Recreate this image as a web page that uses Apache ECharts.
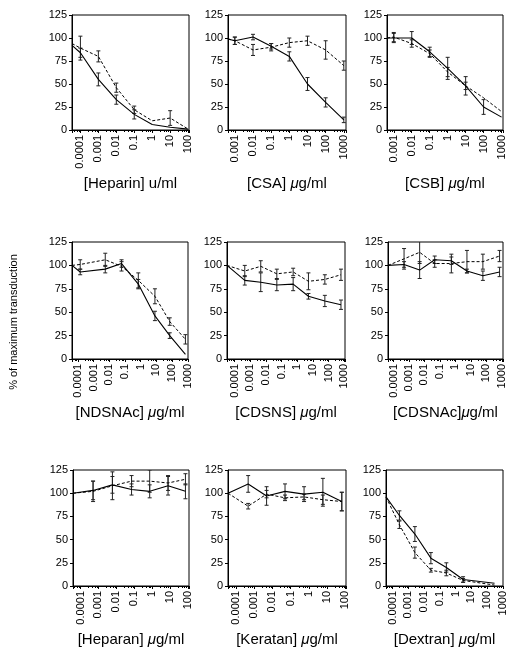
<!DOCTYPE html>
<html><head><meta charset="utf-8">
<script src="https://cdn.jsdelivr.net/npm/echarts@6/dist/echarts.min.js"></script>
<style>html,body{margin:0;padding:0;background:#fff}#c{width:516px;height:652px}</style>
</head><body><div id="c"></div>
<script>
// ---------- data ----------
const xTickLabels = ['0.0001','0.001','0.01','0.1','1','10','100','1000'];
const yTicks = [0,25,50,75,100,125];

const heparinX = [0.000034, 0.0001, 0.001, 0.01, 0.1, 1, 10, 100];
const heparinSolid = [92, 84, 55, 33, 17, 6, 3, 1];
const heparinSolidErr = [0, 5, 7, 5, 5, 0, 0, 0];
const heparinDashed = [94, 89, 80, 46, 22, 10, 13, 1];
const heparinDashedErr = [0, 13, 6, 5, 4, 0, 8, 0];

const csaX = [0.00042, 0.001, 0.01, 0.1, 1, 10, 100, 1000];
const csaSolid = [99, 97, 101, 91, 80, 50, 30, 11];
const csaSolidErr = [0, 4, 3, 3, 5, 7, 5, 3];
const csaDashed = [99, 97, 87, 90, 95, 97, 87, 70];
const csaDashedErr = [0, 4, 6, 4, 5, 5, 10, 5];

const csbX = [0.00042, 0.001, 0.01, 0.1, 1, 10, 100, 1000];
const csbSolid = [100, 100, 100, 85, 67, 48, 25, 14];
const csbSolidErr = [0, 5, 7, 5, 12, 10, 8, 0];
const csbDashed = [100, 101, 94, 83, 63, 48, 35, 20];
const csbDashedErr = [0, 5, 4, 4, 5, 4, 0, 0];

const ndsX = [0.000042, 0.00014, 0.0055, 0.06, 0.7, 8, 70, 700];
const ndsSolid = [100, 93, 96, 102, 80, 46, 25, 5];
const ndsSolidErr = [0, 3, 4, 4, 5, 5, 3, 0];
const ndsDashed = [100, 101, 106, 99, 84, 67, 40, 21];
const ndsDashedErr = [0, 5, 7, 5, 8, 8, 4, 5];

const cdsnsX = [0.000033, 0.00045, 0.0047, 0.05, 0.55, 5.2, 58, 620];
const cdsnsSolid = [100, 84, 82, 79, 80, 67, 62, 58];
const cdsnsSolidErr = [0, 5, 10, 6, 7, 3, 6, 5];
const cdsnsDashed = [100, 94, 99, 91, 93, 83, 85, 90];
const cdsnsDashedErr = [0, 6, 6, 5, 4, 9, 5, 6];

const cdsnacX = [0.000044, 0.00048, 0.0049, 0.046, 0.55, 5.6, 60, 720];
const cdsnacSolid = [100, 101, 95, 106, 105, 94, 89, 93];
const cdsnacSolidErr = [0, 3, 9, 4, 4, 2, 5, 5];
const cdsnacDashed = [100, 107, 114, 102, 102, 104, 104, 110];
const cdsnacDashedErr = [0, 11, 12, 4, 10, 12, 8, 6];

const heparanX = [0.000038, 0.0005, 0.006, 0.07, 0.72, 7.6, 71];
const heparanSolid = [100, 103, 109, 104, 102, 108, 102];
const heparanSolidErr = [0, 10, 9, 6, 7, 10, 8];
const heparanDashed = [100, 102, 108, 113, 113, 111, 115];
const heparanDashedErr = [0, 11, 15, 6, 12, 8, 6];

const keratanX = [0.000037, 0.00047, 0.0048, 0.049, 0.54, 5.8, 63];
const keratanSolid = [100, 110, 97, 102, 99, 101, 91];
const keratanSolidErr = [0, 9, 10, 8, 8, 15, 10];
const keratanDashed = [100, 86, 99, 95, 96, 93, 91];
const keratanDashedErr = [0, 3, 4, 3, 3, 5, 10];

const dextranX = [0.000038, 0.00027, 0.0026, 0.027, 0.26, 3, 300];
const dextranSolid = [96, 76, 56, 30, 20, 7, 3];
const dextranSolidErr = [0, 5, 8, 6, 5, 3, 0];
const dextranDashed = [96, 66, 36, 17, 14, 6, 1];
const dextranDashedErr = [0, 4, 6, 2, 3, 2, 0];

const titles = ['[Heparin] u/ml', '[CSA] {i|\u03bc}g/ml', '[CSB] {i|\u03bc}g/ml',
  '[NDSNAc] {i|\u03bc}g/ml', '[CDSNS] {i|\u03bc}g/ml', '[CDSNAc]{i|\u03bc}g/ml',
  '[Heparan] {i|\u03bc}g/ml', '[Keratan] {i|\u03bc}g/ml', '[Dextran] {i|\u03bc}g/ml'];
const yTitle = '% of maximum transduction';

// ---------- layout ----------
const panels = [
  {x: heparinX, s: heparinSolid, se: heparinSolidErr, d: heparinDashed, de: heparinDashedErr, max: 112, rect: [72, 15, 117, 115]},
  {x: csaX, s: csaSolid, se: csaSolidErr, d: csaDashed, de: csaDashedErr, max: 1320, rect: [228, 15, 118, 115]},
  {x: csbX, s: csbSolid, se: csbSolidErr, d: csbDashed, de: csbDashedErr, max: 1200, rect: [387, 15, 116, 115]},
  {x: ndsX, s: ndsSolid, se: ndsSolidErr, d: ndsDashed, de: ndsDashedErr, max: 1020, rect: [72, 242, 116, 117]},
  {x: cdsnsX, s: cdsnsSolid, se: cdsnsSolidErr, d: cdsnsDashed, de: cdsnsDashedErr, max: 1120, rect: [227, 242, 118, 117]},
  {x: cdsnacX, s: cdsnacSolid, se: cdsnacSolidErr, d: cdsnacDashed, de: cdsnacDashedErr, max: 1200, rect: [388, 242, 115, 117]},
  {x: heparanX, s: heparanSolid, se: heparanSolidErr, d: heparanDashed, de: heparanDashedErr, max: 112, rect: [73, 470, 116, 116]},
  {x: keratanX, s: keratanSolid, se: keratanSolidErr, d: keratanDashed, de: keratanDashedErr, max: 107, rect: [228, 470, 118, 116]},
  {x: dextranX, s: dextranSolid, se: dextranSolidErr, d: dextranDashed, de: dextranDashedErr, max: 1030, rect: [386, 470, 117, 116]}
];

const FONT = 'Liberation Sans';
const grids = [], xAxes = [], yAxes = [], series = [];

function errRender(params, api) {
  const x = api.value(0), y = api.value(1), e = api.value(2);
  const t = api.coord([x, y + e]), b = api.coord([x, y - e]);
  const w = 2, st = {stroke: '#222', lineWidth: 1};
  return {type: 'group', children: [
    {type: 'line', shape: {x1: t[0], y1: t[1], x2: b[0], y2: b[1]}, style: st},
    {type: 'line', shape: {x1: t[0] - w, y1: t[1], x2: t[0] + w, y2: t[1]}, style: st},
    {type: 'line', shape: {x1: b[0] - w, y1: b[1], x2: b[0] + w, y2: b[1]}, style: st}
  ]};
}

panels.forEach((p, i) => {
  const [l, t, w, h] = p.rect;
  grids.push({left: l, top: t, width: w, height: h, show: true, borderColor: '#000', borderWidth: 1, containLabel: false});
  xAxes.push({
    type: 'log', logBase: 10, gridIndex: i, min: p.x[0], max: p.max,
    splitLine: {show: false},
    axisLine: {show: true, lineStyle: {color: '#000', width: 1}},
    axisTick: {show: true, length: 3, lineStyle: {color: '#000'}},
    minorTick: {show: true, splitNumber: 5, length: 2, lineStyle: {color: '#000'}},
    axisLabel: {
      rotate: 90, fontSize: 11, color: '#000', margin: 5, fontFamily: FONT,
      formatter: v => {
        const e = Math.log10(v), r = Math.round(e);
        if (Math.abs(e - r) > 1e-6) return '';
        return xTickLabels[r + 4] || '';
      }
    },
    name: titles[i], nameLocation: 'middle', nameGap: 46,
    nameTextStyle: {fontSize: 15, color: '#000', fontFamily: FONT,
      rich: {i: {fontSize: 15, fontStyle: 'italic', color: '#000', fontFamily: FONT}}}
  });
  yAxes.push({
    type: 'value', gridIndex: i, min: yTicks[0], max: yTicks[yTicks.length - 1], interval: 25,
    splitLine: {show: false},
    axisLine: {show: true, lineStyle: {color: '#000', width: 1}},
    axisTick: {show: true, length: 3, lineStyle: {color: '#000'}},
    axisLabel: {fontSize: 11, color: '#000', margin: 5, fontFamily: FONT}
  });
  series.push({
    type: 'line', xAxisIndex: i, yAxisIndex: i, symbol: 'none', animation: false,
    data: p.x.map((x, k) => [x, p.s[k]]),
    lineStyle: {color: '#000', width: 1.1, type: 'solid'}
  });
  series.push({
    type: 'line', xAxisIndex: i, yAxisIndex: i, symbol: 'none', animation: false,
    data: p.x.map((x, k) => [x, p.d[k]]),
    lineStyle: {color: '#000', width: 1, type: [3, 2]}
  });
  series.push({
    type: 'custom', xAxisIndex: i, yAxisIndex: i, clip: true, animation: false,
    encode: {x: 0, y: 1},
    data: p.x.map((x, k) => [x, p.s[k], p.se[k]]).filter(d => d[2] > 0)
      .concat(p.x.map((x, k) => [x, p.d[k], p.de[k]]).filter(d => d[2] > 0)),
    renderItem: errRender
  });
});

const chart = echarts.init(document.getElementById('c'), null, {renderer: 'canvas'});
chart.setOption({
  animation: false,
  backgroundColor: '#fff',
  textStyle: {fontFamily: FONT},
  grid: grids, xAxis: xAxes, yAxis: yAxes, series: series,
  graphic: [{
    type: 'text', x: 14, y: 322, rotation: Math.PI / 2,
    style: {text: yTitle, fontSize: 11, fill: '#000', fontFamily: FONT, textAlign: 'center', textVerticalAlign: 'middle'}
  }]
});
</script>
</body></html>
